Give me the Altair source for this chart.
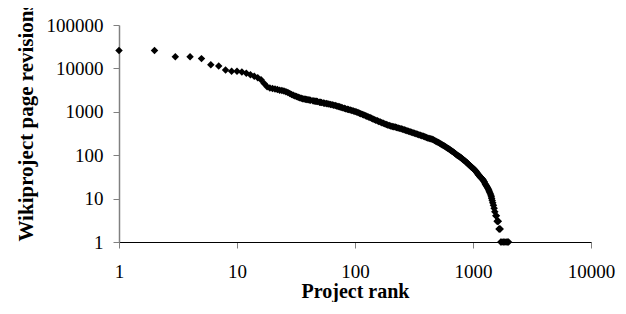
import altair as alt
import pandas as pd

ranks = [1, 2, 3, 4, 5, 6, 7, 8, 9, 10,
         11, 12, 13, 14, 15, 16, 17, 18, 19, 20,
         21, 22, 23, 24, 25, 26, 27, 28, 29, 30,
         31, 32, 33, 34, 35, 36, 37, 38, 39, 40,
         41, 42, 44, 45, 46, 47, 48, 50, 51, 52,
         54, 55, 57, 58, 60, 62, 64, 66, 68, 70,
         72, 74, 76, 78, 81, 83, 86, 88, 91, 94,
         97, 100, 103, 106, 109, 112, 116, 119, 123, 126,
         130, 134, 138, 142, 146, 150, 155, 159, 164, 169,
         174, 179, 184, 189, 195, 201, 207, 213, 219, 225,
         232, 239, 246, 253, 261, 268, 276, 284, 293, 301,
         310, 319, 329, 338, 348, 358, 369, 380, 391, 402,
         414, 426, 439, 450, 461, 473, 485, 497, 510, 522,
         535, 547, 560, 572, 585, 597, 610, 622, 635, 647,
         660, 672, 685, 697, 710, 722, 735, 747, 760, 772,
         785, 797, 810, 822, 835, 847, 860, 872, 885, 897,
         910, 922, 935, 947, 960, 972, 985, 997, 1010, 1025,
         1040, 1055, 1070, 1085, 1100, 1115, 1130, 1145, 1160, 1175,
         1190, 1205, 1220, 1235, 1250, 1265, 1280, 1295, 1310, 1325,
         1340, 1355, 1370, 1385, 1400, 1420, 1430, 1440, 1455, 1470,
         1490, 1510, 1530, 1560, 1580, 1600, 1620, 1640, 1660, 1680,
         1700, 1720, 1760, 1810, 1860, 1910, 1960, 2000]

revisions = [26000, 26000, 18500, 18500, 16800, 12200, 11400, 9200, 8600, 8600,
             8300, 7700, 7100, 6600, 6100, 5500, 4500, 3800, 3550, 3450,
             3350, 3250, 3150, 3100, 3000, 2900, 2800, 2650, 2500, 2400,
             2320, 2250, 2170, 2100, 2050, 2000, 1975, 1950, 1925, 1900,
             1875, 1850, 1800, 1780, 1760, 1740, 1720, 1670, 1650, 1630,
             1600, 1580, 1550, 1530, 1510, 1480, 1450, 1420, 1390, 1360,
             1330, 1300, 1270, 1240, 1200, 1180, 1150, 1125, 1100, 1070,
             1040, 1015, 990, 960, 930, 900, 870, 840, 810, 785,
             760, 735, 710, 685, 660, 640, 620, 600, 580, 562,
             545, 527, 510, 497, 485, 472, 460, 452, 445, 435,
             425, 415, 405, 395, 385, 375, 365, 355, 345, 337,
             330, 321, 312, 304, 296, 288, 280, 272, 265, 257,
             250, 244, 238, 232, 226, 218, 210, 202, 195, 188,
             182, 175, 168, 162, 156, 150, 145, 140, 135, 130,
             125, 121, 117, 112, 108, 104, 100, 97, 95, 92,
             89, 86, 83, 80, 78, 75, 73, 70, 68, 65,
             63, 61, 59, 57, 55, 53, 52, 50, 49, 47,
             45, 43, 41, 39, 37, 35, 34, 32, 31, 30,
             29, 28, 27, 25, 24, 22, 21, 20, 19, 18,
             17, 16, 15, 14, 13, 12, 11, 10, 9, 8,
             7, 6, 5, 4, 4, 3, 3, 3, 2, 2,
             2, 1, 1, 1, 1, 1, 1, 1]

x_ticks = [1, 10, 100, 1000, 10000]
y_ticks = [1, 10, 100, 1000, 10000, 100000]

df = pd.DataFrame({"rank": ranks, "revisions": revisions})

FONT = "Liberation Serif"

chart = alt.Chart(df).mark_point(
    shape="diamond", filled=True, color="black", size=56, opacity=1, strokeWidth=0
).encode(
    x=alt.X("rank:Q",
            scale=alt.Scale(type="log", domain=[1, 10000]),
            axis=alt.Axis(values=x_ticks, format="d", title="Project rank",
                          grid=False, labelFlush=False, labelOverlap=False,
                          labelFont=FONT, labelFontSize=19, labelColor="black",
                          labelPadding=14, tickSize=6, tickColor="#808080",
                          domainColor="black", domainWidth=1,
                          titleFont=FONT, titleFontSize=20, titleFontWeight="bold",
                          titleColor="black", titleBaseline="alphabetic", titleY=55)),
    y=alt.Y("revisions:Q",
            scale=alt.Scale(type="log", domain=[1, 100000]),
            axis=alt.Axis(values=y_ticks, format="d", title="Wikiproject page revisions",
                          grid=False, labelOverlap=False,
                          labelFont=FONT, labelFontSize=19, labelColor="black",
                          labelPadding=10, tickSize=6, tickColor="#808080",
                          domainColor="#808080", domainWidth=1.5,
                          titleFont=FONT, titleFontSize=21, titleFontWeight="bold",
                          titleColor="black", titleAngle=270, titleAlign="left",
                          titleBaseline="alphabetic", titleX=-87, titleY=216)),
).properties(
    width=472,
    height=217,
    autosize=alt.AutoSizeParams(type="none"),
    padding={"left": 111, "top": 17, "right": 27, "bottom": 60},
).configure_view(stroke=None)

chart.save("out.html", embed_options={"renderer": "svg", "actions": False})
